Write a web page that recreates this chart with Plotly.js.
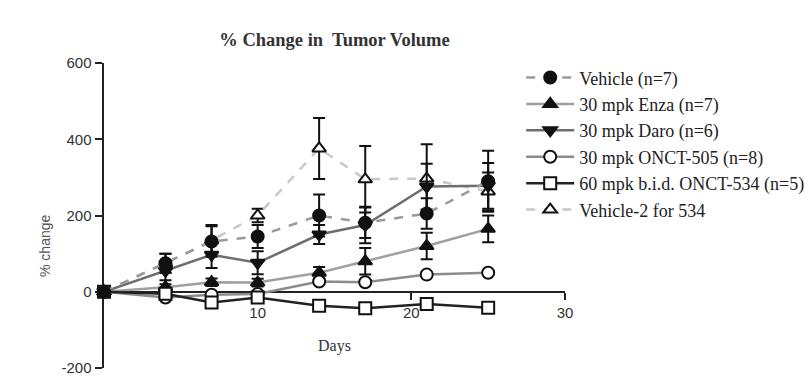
<!DOCTYPE html>
<html><head><meta charset="utf-8">
<script src="https://cdn.plot.ly/plotly-3.0.1.min.js"></script>
<style>html,body{margin:0;padding:0;background:#fff}#chart{width:809px;height:380px}</style>
</head><body><div id="chart"></div>
<script>
const days = [0, 4, 7, 10, 14, 17, 21, 25];
const names = ["Vehicle (n=7)", "30 mpk Enza (n=7)", "30 mpk Daro (n=6)", "30 mpk ONCT-505 (n=8)", "60 mpk b.i.d. ONCT-534 (n=5)", "Vehicle-2 for 534"];
const vehicle = [0, 75, 132, 145, 200, 181, 205, 290];
const vehicleErr = [0, 25, 40, 30, 55, 40, 40, 80];
const enza = [0, 12, 25, 24, 50, 80, 120, 165];
const enzaErr = [0, 8, 10, 10, 15, 35, 35, 35];
const daro = [0, 55, 97, 76, 150, 175, 276, 278];
const daroErr = [0, 25, 35, 30, 25, 48, 60, 60];
const onct505 = [0, -15, -8, -6, 27, 25, 45, 50];
const onct505Err = [0, 6, 6, 6, 6, 6, 6, 6];
const onct534 = [0, -5, -28, -15, -37, -43, -32, -42];
const onct534Err = [0, 5, 6, 6, 5, 5, 5, 5];
const vehicle2 = [0, 75, 135, 200, 376, 295, 297, 263];
const vehicle2Err = [0, 25, 40, 18, 80, 87, 90, 50];
const yTicks = [-200, 0, 200, 400, 600];
const xTicks = [10, 20, 30];

function mk(name, y, err, symbol, filled, lineColor, dash, rank) {
  return {
    type: 'scatter', mode: 'lines+markers', x: days, y: y, name: name,
    legendrank: rank, cliponaxis: false,
    line: {color: lineColor, width: 2.5, dash: dash},
    marker: {symbol: symbol, size: 12, color: filled ? '#111' : '#fff', line: {color: '#111', width: 2}},
    error_y: {type: 'data', array: err, visible: true, color: '#111', thickness: 2, width: 6}
  };
}

const traces = [
  mk(names[5], vehicle2, vehicle2Err, 'triangle-up', false, '#c8c8c8', 'dash', 6),
  mk(names[1], enza, enzaErr, 'triangle-up', true, '#a0a0a0', 'solid', 2),
  mk(names[3], onct505, onct505Err, 'circle', false, '#8c8c8c', 'solid', 4),
  mk(names[4], onct534, onct534Err, 'square', false, '#222', 'solid', 5),
  mk(names[2], daro, daroErr, 'triangle-down', true, '#6e6e6e', 'solid', 3),
  mk(names[0], vehicle, vehicleErr, 'circle', true, '#9a9a9a', 'dash', 1)
];

const layout = {
  width: 809, height: 380,
  margin: {l: 104, r: 244, t: 63, b: 12, autoexpand: false},
  paper_bgcolor: '#fff', plot_bgcolor: '#fff',
  showlegend: true,
  title: {text: '% Change in  Tumor Volume', x: 0.5, xref: 'paper', y: 0.895, yref: 'container', yanchor: 'middle',
          font: {family: 'Liberation Serif', size: 18.5, color: '#333', weight: 'bold'}},
  xaxis: {range: [0, 30], anchor: 'free', position: 0.25, tickvals: xTicks, ticktext: xTicks.map(String),
          showline: true, linewidth: 2.5, linecolor: '#222', ticks: 'outside', ticklen: 7, tickwidth: 2, tickcolor: '#222',
          showgrid: false, zeroline: false, layer: 'below traces',
          tickfont: {family: 'Liberation Sans', size: 15, color: '#333'},
          title: {text: 'Days', standoff: 19, font: {family: 'Liberation Serif', size: 16, color: '#333'}}},
  yaxis: {range: [-200, 600], tickvals: yTicks, ticktext: yTicks.map(String),
          showline: true, linewidth: 2.5, linecolor: '#222', ticks: 'outside', ticklen: 7, tickwidth: 2, tickcolor: '#222',
          showgrid: false, zeroline: false, layer: 'below traces',
          tickfont: {family: 'Liberation Sans', size: 15, color: '#333'}},
  legend: {x: 0.905, xref: 'paper', y: 1.012, yref: 'paper', xanchor: 'left', yanchor: 'top', itemwidth: 48,
           font: {family: 'Liberation Serif', size: 18, color: '#222'}, bgcolor: 'rgba(0,0,0,0)', traceorder: 'normal'},
  annotations: [{text: '% change', xref: 'paper', yref: 'paper', x: -0.128, y: 0.40, textangle: -90, showarrow: false,
                 xanchor: 'center', yanchor: 'middle', font: {family: 'Liberation Sans', size: 14, color: '#555'}}]
};

Plotly.newPlot('chart', traces, layout, {displayModeBar: false, staticPlot: true});
</script>
</body></html>
